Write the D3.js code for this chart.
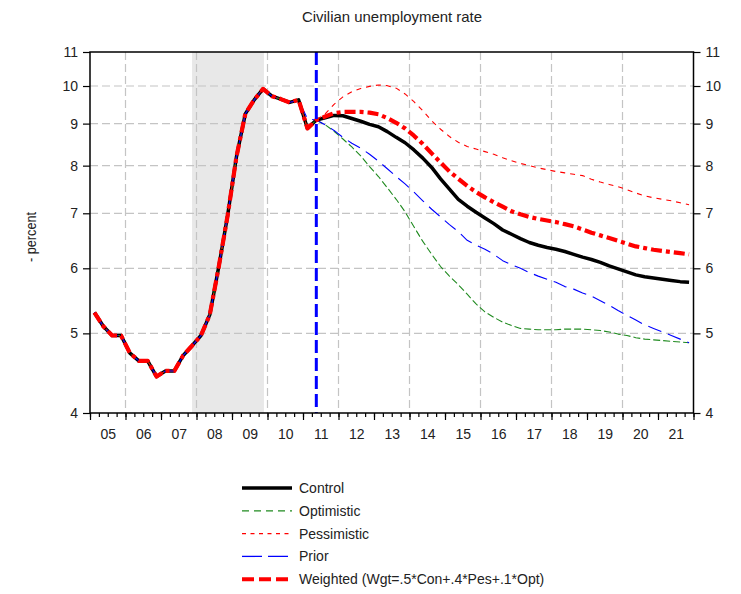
<!DOCTYPE html>
<html>
<head>
<meta charset="utf-8">
<script src="https://cdn.jsdelivr.net/npm/d3@7/dist/d3.min.js"></script>
<style>
  html, body { margin: 0; padding: 0; background: #fff; }
  svg text { font-family: "Liberation Sans", Arial, sans-serif; fill: #222; }
</style>
</head>
<body>
<svg id="chart" width="741" height="594"></svg>
<script>
// ---------------- DATA ----------------
const title = "Civilian unemployment rate";
const yLabel = "- percent";
const yearLabels = ["05","06","07","08","09","10","11","12","13","14","15","16","17","18","19","20","21"];
const yTicks = [4,5,6,7,8,9,10,11];
const gridYears = [2006,2008,2010,2012,2014,2016,2018,2020];
const recession = [2007.875, 2009.9];
const forecastStart = 2011.375;

// actual history 2005Q1 .. 2011Q1 (quarterly)
const history = [5.30,5.10,4.97,4.97, 4.73,4.63,4.63,4.43, 4.50,4.50,4.70,4.83,
                 4.97,5.27,6.02,6.95, 8.20,9.25,9.62,9.92, 9.72,9.64,9.55,9.62, 8.88];
const priorLastHist = 9.12; // 2011Q1 in prior forecast

// forecasts 2011Q2 .. 2021Q4
const control = [9.09,9.15,9.21,9.20,9.13,9.06,8.98,8.92,8.80,8.66,8.53,8.36,8.17,7.96,7.71,7.49,7.28,7.14,7.02,6.91,
                 6.80,6.68,6.60,6.52,6.45,6.40,6.36,6.33,6.29,6.24,6.19,6.15,6.10,6.04,5.99,5.94,5.89,5.86,5.84,5.82,
                 5.80,5.78,5.77];
const optimistic = [9.09,8.97,8.81,8.62,8.43,8.22,7.98,7.76,7.52,7.28,7.03,6.74,6.47,6.24,6.03,5.87,5.73,5.58,5.43,5.31,
                    5.23,5.16,5.11,5.07,5.06,5.05,5.05,5.05,5.06,5.06,5.06,5.05,5.04,5.02,4.99,4.97,4.94,4.92,4.91,4.90,
                    4.89,4.88,4.87];
const pessimistic = [9.09,9.25,9.50,9.70,9.84,9.93,9.99,10.03,10.01,9.94,9.78,9.57,9.33,9.07,8.86,8.68,8.54,8.44,8.38,8.32,
                     8.26,8.18,8.11,8.05,8.00,7.95,7.91,7.87,7.84,7.81,7.78,7.70,7.64,7.59,7.54,7.48,7.41,7.35,7.31,7.28,
                     7.25,7.21,7.17];
const prior = [9.09,8.97,8.83,8.66,8.52,8.40,8.26,8.10,7.93,7.76,7.60,7.43,7.25,7.08,6.93,6.78,6.65,6.49,6.40,6.33,
               6.24,6.13,6.06,6.00,5.93,5.87,5.82,5.77,5.70,5.66,5.60,5.55,5.48,5.41,5.33,5.26,5.19,5.12,5.07,5.02,
               4.97,4.92,4.87];
const weighted = [9.09,9.18,9.27,9.30,9.30,9.30,9.28,9.24,9.14,9.02,8.88,8.70,8.50,8.28,8.07,7.87,7.71,7.56,7.43,7.32,
                  7.22,7.13,7.04,6.98,6.93,6.89,6.86,6.83,6.79,6.75,6.69,6.63,6.58,6.53,6.48,6.43,6.38,6.35,6.32,6.30,
                  6.28,6.26,6.24];

const seriesNames = ["Control","Optimistic","Pessimistic","Prior","Weighted (Wgt=.5*Con+.4*Pes+.1*Opt)"];

// ---------------- CHART ----------------
const svg = d3.select("#chart");
const L = 90, R = 693.5, T = 52, B = 413;
const x = d3.scaleLinear().domain([2005, 2022]).range([L, R]);
const y = d3.scaleLog().domain([4, 11]).range([B, T]);
const qTime = i => 2005 + i / 4 + 0.125;

function build(hist, fc) {
  const vals = hist.concat(fc);
  return vals.map((v, i) => ({t: qTime(i), v}));
}
const histPrior = history.slice(0, -1).concat([priorLastHist]);
const styles = [
  {name: seriesNames[0], data: build(history, control),     color: "#000000", w: 3.5, dash: null},
  {name: seriesNames[1], data: build(history, optimistic),  color: "#1f8a1f", w: 1.1, dash: "7,3"},
  {name: seriesNames[2], data: build(history, pessimistic), color: "#ff0000", w: 1.1, dash: "5,5"},
  {name: seriesNames[3], data: build(histPrior, prior),     color: "#0000ff", w: 1.1, dash: "14,7"},
  {name: seriesNames[4], data: build(history, weighted),    color: "#ff0000", w: 4.2, dash: "11,4,4,4"}
];

svg.append("defs").append("clipPath").attr("id", "clip")
  .append("rect").attr("x", L).attr("y", T).attr("width", R - L).attr("height", B - T);

// recession shading
svg.append("rect")
  .attr("x", x(recession[0])).attr("y", T)
  .attr("width", x(recession[1]) - x(recession[0])).attr("height", B - T)
  .attr("fill", "#e8e8e8");

// grid
const grid = svg.append("g").attr("stroke", "#c4c4c4").attr("stroke-width", 1.2).attr("stroke-dasharray", "8,4");
grid.selectAll("line.v").data(gridYears).join("line")
  .attr("x1", d => x(d)).attr("x2", d => x(d)).attr("y1", T).attr("y2", B);
grid.selectAll("line.h").data(yTicks.filter(d => d > 4 && d < 11)).join("line")
  .attr("x1", L).attr("x2", R).attr("y1", d => y(d)).attr("y2", d => y(d));

// lines
const line = d3.line().x(d => x(d.t)).y(d => y(d.v));
const lg = svg.append("g").attr("clip-path", "url(#clip)");
styles.forEach(s => {
  lg.append("path").datum(s.data)
    .attr("d", line).attr("fill", "none")
    .attr("stroke", s.color).attr("stroke-width", s.w)
    .attr("stroke-dasharray", s.dash).attr("stroke-linejoin", "round");
});

// forecast start line
svg.append("line")
  .attr("x1", x(forecastStart)).attr("x2", x(forecastStart))
  .attr("y1", T).attr("y2", B)
  .attr("stroke", "#0000ff").attr("stroke-width", 3).attr("stroke-dasharray", "13,5");

// frame
svg.append("rect").attr("x", L).attr("y", T).attr("width", R - L).attr("height", B - T)
  .attr("fill", "none").attr("stroke", "#000").attr("stroke-width", 1.5);

// axes
const quarters = d3.range(2005, 2022.001, 0.25);
const years = d3.range(2005, 2023);
const midYears = d3.range(2005.5, 2022, 1);

const xa1 = svg.append("g").attr("transform", `translate(0,${B})`)
  .call(d3.axisBottom(x).tickValues(quarters).tickSize(4).tickFormat(""));
const xa2 = svg.append("g").attr("transform", `translate(0,${B})`)
  .call(d3.axisBottom(x).tickValues(years).tickSize(7).tickFormat(""));
const xa3 = svg.append("g").attr("transform", `translate(0,${B})`)
  .call(d3.axisBottom(x).tickValues(midYears).tickSize(0).tickPadding(16)
        .tickFormat((d, i) => yearLabels[i]));
[xa1, xa2, xa3].forEach(g => { g.select(".domain").remove(); g.selectAll("line").attr("stroke", "#000").attr("stroke-width", 1.2); });
xa3.selectAll("text").attr("font-size", 14).attr("fill", "#222").attr("font-family", "Liberation Sans, Arial, sans-serif");

const ya = svg.append("g").attr("transform", `translate(${L},0)`)
  .call(d3.axisLeft(y).tickValues(yTicks).tickSize(7).tickPadding(5).tickFormat(d3.format("d")));
const yb = svg.append("g").attr("transform", `translate(${R},0)`)
  .call(d3.axisRight(y).tickValues(yTicks).tickSize(7).tickPadding(5).tickFormat(d3.format("d")));
[ya, yb].forEach(g => {
  g.select(".domain").remove();
  g.selectAll("line").attr("stroke", "#000").attr("stroke-width", 1.2);
  g.selectAll("text").attr("font-size", 14).attr("fill", "#222").attr("font-family", "Liberation Sans, Arial, sans-serif");
});

// title
svg.append("text").attr("x", 392).attr("y", 22).attr("text-anchor", "middle")
  .attr("font-size", 15).attr("textLength", 180).attr("lengthAdjust", "spacingAndGlyphs")
  .text(title);

// y label
svg.append("text").attr("transform", "translate(36,237) rotate(-90)")
  .attr("text-anchor", "middle").attr("font-size", 15)
  .attr("textLength", 50).attr("lengthAdjust", "spacingAndGlyphs")
  .text(yLabel);

// legend
const leg = svg.append("g");
styles.forEach((s, i) => {
  const yy = 488 + i * 22.8;
  leg.append("line").attr("x1", 242).attr("x2", 292).attr("y1", yy).attr("y2", yy)
    .attr("stroke", s.color)
    .attr("stroke-width", i === 0 ? 3.5 : (i === 4 ? 4 : 1.3))
    .attr("stroke-dasharray", i === 1 ? "7,5" : i === 2 ? "4,4.5" : i === 3 ? "20,6" : i === 4 ? "12,5" : null);
  leg.append("text").attr("x", 299).attr("y", yy + 5).attr("font-size", 14).text(s.name);
});
</script>
</body>
</html>
